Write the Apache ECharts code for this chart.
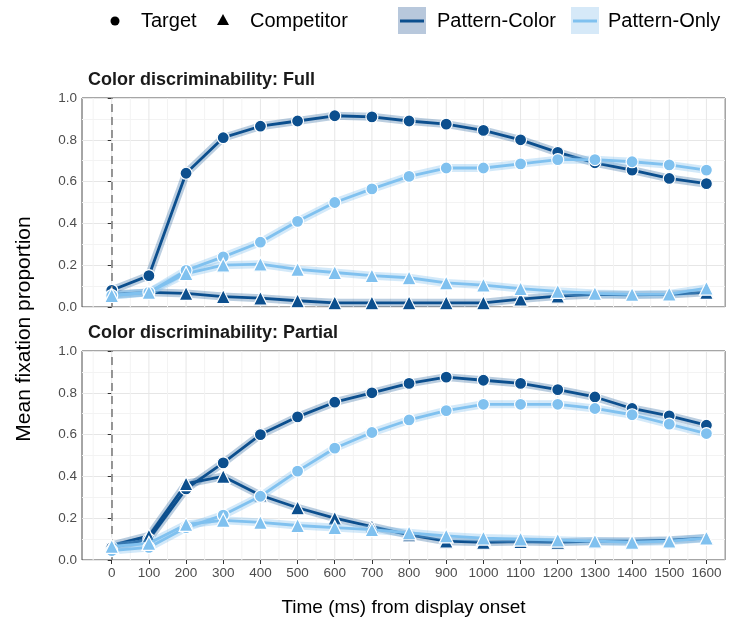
<!DOCTYPE html>
<html>
<head>
<meta charset="utf-8">
<title>fixation proportion</title>
<script src="https://cdn.jsdelivr.net/npm/echarts@6/dist/echarts.min.js"></script>
</head>
<body style="margin:0;background:#fff">
<div id="container" style="width:733px;height:625px"></div>
<script type="text/javascript">
// time bins (ms)
var times = [0, 100, 200, 300, 400, 500, 600, 700, 800, 900, 1000, 1100, 1200, 1300, 1400, 1500, 1600];
var yTicks = [0, 0.2, 0.4, 0.6, 0.8, 1.0];

// Color discriminability: Full
var fullTargetPC = [0.08, 0.15, 0.64, 0.81, 0.865, 0.89, 0.915, 0.91, 0.89, 0.875, 0.845, 0.80, 0.74, 0.69, 0.655, 0.615, 0.59];
var fullTargetPO = [0.055, 0.07, 0.175, 0.24, 0.31, 0.41, 0.50, 0.565, 0.625, 0.665, 0.665, 0.685, 0.705, 0.705, 0.695, 0.68, 0.655];
var fullCompPC = [0.06, 0.07, 0.065, 0.05, 0.042, 0.03, 0.02, 0.02, 0.02, 0.02, 0.02, 0.038, 0.052, 0.06, 0.058, 0.06, 0.07];
var fullCompPO = [0.055, 0.07, 0.16, 0.20, 0.205, 0.18, 0.165, 0.15, 0.14, 0.115, 0.105, 0.088, 0.075, 0.065, 0.06, 0.062, 0.09];

// Color discriminability: Partial
var partTargetPC = [0.06, 0.10, 0.34, 0.465, 0.60, 0.685, 0.755, 0.80, 0.845, 0.875, 0.86, 0.845, 0.815, 0.78, 0.725, 0.69, 0.645];
var partTargetPO = [0.045, 0.06, 0.155, 0.215, 0.305, 0.425, 0.535, 0.61, 0.67, 0.715, 0.745, 0.745, 0.745, 0.725, 0.695, 0.65, 0.605];
var partCompPC = [0.07, 0.115, 0.365, 0.40, 0.31, 0.25, 0.20, 0.16, 0.12, 0.09, 0.085, 0.088, 0.085, 0.09, 0.09, 0.095, 0.105];
var partCompPO = [0.065, 0.08, 0.17, 0.19, 0.18, 0.165, 0.155, 0.145, 0.13, 0.115, 0.105, 0.10, 0.095, 0.09, 0.085, 0.09, 0.105];

var panelTitles = ['Color discriminability: Full', 'Color discriminability: Partial'];
var panels = [
    [fullTargetPC, fullCompPC, fullTargetPO, fullCompPO],
    [partTargetPC, partCompPC, partTargetPO, partCompPO]
];

var DARK = '#0c4f8e', LIGHT = '#80c1ef';
var FONT = '"Liberation Sans", Arial, sans-serif';

// minor vertical grid lines sit halfway between time bins
var xMinor = [-50].concat(times.map(function (t) { return t + 50; }));

function pairs(arr) {
    return times.map(function (t, i) { return [t, arr[i]]; });
}

function gridLines(idx) {
    var data = times.map(function (t) { return [t, 1]; })
        .concat(xMinor.map(function (t) { return [t, 0]; }));
    return {
        type: 'custom',
        xAxisIndex: idx, yAxisIndex: idx,
        silent: true, z: 1, clip: true,
        data: data,
        renderItem: function (params, api) {
            var x = api.value(0);
            var p1 = api.coord([x, 0]);
            var p2 = api.coord([x, 1]);
            return {
                type: 'line',
                shape: { x1: p1[0], y1: p1[1], x2: p2[0], y2: p2[1] },
                style: { stroke: api.value(1) ? '#e6e6e6' : '#f3f3f3', lineWidth: 1 }
            };
        },
        markLine: {
            silent: true, symbol: ['none', 'none'], label: { show: false },
            lineStyle: { color: '#777777', type: [8, 5], width: 1.5 },
            data: [{ xAxis: 0 }]
        }
    };
}

function dataSeries(idx, arr, color, shape, ribbonRgba, zBase) {
    return [{
        type: 'line', xAxisIndex: idx, yAxisIndex: idx,
        data: pairs(arr), showSymbol: false, silent: true, z: zBase,
        lineStyle: { color: ribbonRgba, width: 8 }
    }, {
        type: 'line', xAxisIndex: idx, yAxisIndex: idx,
        data: pairs(arr), symbol: shape, symbolSize: shape === 'circle' ? 12 : 14,
        z: zBase + 1,
        lineStyle: { color: color, width: 2.8 },
        itemStyle: { color: color, borderColor: '#ffffff', borderWidth: 1.2 }
    }];
}

var grids = [], xAxes = [], yAxes = [], series = [], titles = [];
var tops = [98, 351];
for (var g = 0; g < 2; g++) {
    var bottom = g === 1;
    grids.push({ left: 82, top: tops[g], width: 643, height: 209, show: true,
        borderColor: '#4d4d4d', borderWidth: 1, backgroundColor: '#fff' });
    xAxes.push({
        gridIndex: g, type: 'value', min: -80, max: 1650,
        axisLine: { show: false },
        splitLine: { show: false },
        axisTick: { show: bottom, customValues: times, length: 4, lineStyle: { color: '#333' } },
        axisLabel: { show: bottom, customValues: times, fontSize: 13.5, color: '#4d4d4d', margin: 6, fontFamily: FONT,
            formatter: function (v) { return String(v); } },
        name: bottom ? 'Time (ms) from display onset' : '',
        nameLocation: 'middle', nameGap: 38,
        nameTextStyle: { fontSize: 19, color: '#000', fontFamily: FONT }
    });
    yAxes.push({
        gridIndex: g, type: 'value', min: 0, max: 1, interval: 0.2,
        axisLine: { show: false },
        axisTick: { show: true, length: 4, lineStyle: { color: '#333' } },
        axisLabel: { fontSize: 13.5, color: '#4d4d4d', margin: 5, fontFamily: FONT,
            formatter: function (v) { return v.toFixed(1); } },
        splitLine: { lineStyle: { color: '#e6e6e6', width: 1 } },
        minorTick: { show: false, splitNumber: 2 },
        minorSplitLine: { show: true, lineStyle: { color: '#f3f3f3', width: 1 } }
    });
    titles.push({ text: panelTitles[g], left: 88, top: tops[g] - 27, padding: 0,
        textStyle: { fontSize: 18, fontWeight: 'bold', color: '#1a1a1a', fontFamily: FONT } });

    var p = panels[g];
    series.push(gridLines(g));
    series = series.concat(dataSeries(g, p[0], DARK, 'circle', 'rgba(12,79,142,0.28)', 2));
    series = series.concat(dataSeries(g, p[1], DARK, 'triangle', 'rgba(12,79,142,0.28)', 2));
    series = series.concat(dataSeries(g, p[2], LIGHT, 'circle', 'rgba(128,193,239,0.35)', 4));
    series = series.concat(dataSeries(g, p[3], LIGHT, 'triangle', 'rgba(128,193,239,0.35)', 4));
}

var legendFont = '20px ' + FONT;
var graphics = [
    { type: 'circle', shape: { cx: 115, cy: 21, r: 4.5 }, style: { fill: '#000' } },
    { type: 'text', x: 141, y: 21, style: { text: 'Target', font: legendFont, fill: '#000', verticalAlign: 'middle' } },
    { type: 'polygon', shape: { points: [[217, 25], [229, 25], [223, 14]] }, style: { fill: '#000' } },
    { type: 'text', x: 250, y: 21, style: { text: 'Competitor', font: legendFont, fill: '#000', verticalAlign: 'middle' } },
    { type: 'rect', shape: { x: 398, y: 7, width: 28, height: 27 }, style: { fill: '#b8c8dc' } },
    { type: 'line', shape: { x1: 400, y1: 21, x2: 424, y2: 21 }, style: { stroke: DARK, lineWidth: 3 } },
    { type: 'text', x: 437, y: 21, style: { text: 'Pattern-Color', font: legendFont, fill: '#000', verticalAlign: 'middle' } },
    { type: 'rect', shape: { x: 571, y: 7, width: 28, height: 27 }, style: { fill: '#d6e9f8' } },
    { type: 'line', shape: { x1: 573, y1: 21, x2: 597, y2: 21 }, style: { stroke: LIGHT, lineWidth: 3 } },
    { type: 'text', x: 608, y: 21, style: { text: 'Pattern-Only', font: legendFont, fill: '#000', verticalAlign: 'middle' } },
    { type: 'text', x: 24, y: 329, rotation: Math.PI / 2,
      style: { text: 'Mean fixation proportion', font: '21px ' + FONT, fill: '#000', align: 'center', verticalAlign: 'middle' } }
];

var myChart = echarts.init(document.getElementById('container'));
var option = {
    animation: false,
    backgroundColor: '#fff',
    title: titles,
    grid: grids,
    xAxis: xAxes,
    yAxis: yAxes,
    graphic: graphics,
    series: series
};
myChart.setOption(option, true);
</script>
</body>
</html>
